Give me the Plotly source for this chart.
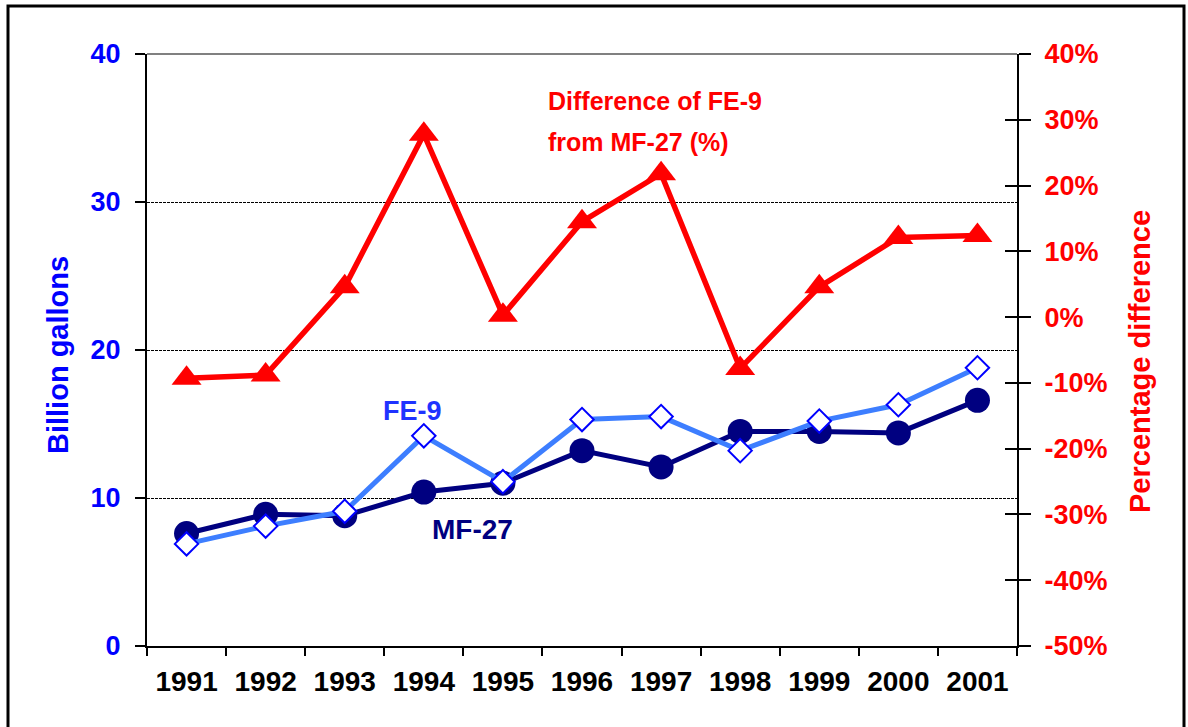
import plotly.graph_objects as go

years = ["1991", "1992", "1993", "1994", "1995", "1996", "1997", "1998", "1999", "2000", "2001"]
mf27 = [7.6, 8.9, 8.8, 10.4, 11.0, 13.2, 12.1, 14.5, 14.5, 14.4, 16.6]
fe9 = [6.9, 8.1, 9.1, 14.2, 11.1, 15.3, 15.5, 13.2, 15.2, 16.3, 18.8]
diff_pct = [-9.3, -8.8, 4.6, 27.8, 0.3, 14.5, 21.8, -7.8, 4.6, 12.1, 12.4]

left_ticks = [0, 10, 20, 30, 40]
right_ticks = [-50, -40, -30, -20, -10, 0, 10, 20, 30, 40]
right_labels = [f"{v}%" for v in right_ticks]

W, H = 1188, 727
L, R, T, B = 147, 171, 54, 81
pw, ph = W - L - R, H - T - B

def px(x):
    return (x - L) / pw

def py(y):
    return 1 - (y - T) / ph

BOLD = "Liberation Sans, Arial, sans-serif"

fig = go.Figure()
fig.add_trace(go.Scatter(
    x=years, y=mf27, mode="lines+markers", name="MF-27",
    line=dict(color="#000080", width=5),
    marker=dict(symbol="circle", size=25, color="#000080"),
    yaxis="y", cliponaxis=False))
fig.add_trace(go.Scatter(
    x=years, y=fe9, mode="lines+markers", name="FE-9",
    line=dict(color="#3D7EFF", width=5),
    marker=dict(symbol="diamond", size=18, color="white", line=dict(color="#0000FF", width=2)),
    yaxis="y", cliponaxis=False))
fig.add_trace(go.Scatter(
    x=years, y=diff_pct, mode="lines+markers", name="Difference",
    line=dict(color="#FF0000", width=5.5),
    marker=dict(symbol="triangle-up", size=26, color="#FF0000"),
    yaxis="y2", cliponaxis=False))
# invisible trace to anchor the inner tick axis
fig.add_trace(go.Scatter(x=years, y=diff_pct, mode="lines", line=dict(width=0),
                         yaxis="y3", hoverinfo="skip", showlegend=False, opacity=0))

fig.update_layout(
    width=W, height=H,
    margin=dict(l=L, r=R, t=T, b=B, autoexpand=False),
    paper_bgcolor="white", plot_bgcolor="white",
    showlegend=False,
    font=dict(family=BOLD),
    xaxis=dict(
        type="category", range=[-0.5, 10.5], tickson="boundaries",
        ticks="outside", ticklen=8, tickwidth=2, tickcolor="black",
        showline=True, linecolor="black", linewidth=2, showgrid=False, zeroline=False,
        tickfont=dict(size=28, color="black", weight="bold"),
        ticklabelstandoff=9,
    ),
    yaxis=dict(
        range=[0, 40], tickvals=left_ticks, ticktext=[str(v) for v in left_ticks],
        ticks="outside", ticklen=10, tickwidth=2, tickcolor="black",
        showline=True, linecolor="black", linewidth=2,
        showgrid=True, gridcolor="black", gridwidth=1, griddash="3px,1px",
        zeroline=False,
        tickfont=dict(size=27, color="#0000FF", weight="bold"),
        ticklabelstandoff=9,
    ),
    yaxis2=dict(
        range=[-50, 40], tickvals=right_ticks, ticktext=right_labels,
        overlaying="y", side="right",
        ticks="outside", ticklen=12, tickwidth=2, tickcolor="black",
        showline=True, linecolor="black", linewidth=2,
        showgrid=False, zeroline=False,
        tickfont=dict(size=27, color="#FF0000", weight="bold"),
        ticklabelstandoff=8,
    ),
    yaxis3=dict(
        range=[-50, 40], tickvals=right_ticks, overlaying="y", side="right",
        ticks="inside", ticklen=12, tickwidth=2, tickcolor="black",
        showticklabels=False, showline=False, showgrid=False, zeroline=False,
    ),
)

shapes = [
    # top border of plot area (gray)
    dict(type="line", xref="paper", yref="paper", x0=0, x1=1, y0=1, y1=1,
         line=dict(color="#808080", width=2), layer="above"),
    # outer frame
    dict(type="rect", xref="paper", yref="paper",
         x0=px(8), x1=px(1184), y0=py(6), y1=py(740),
         line=dict(color="black", width=3), fillcolor="rgba(0,0,0,0)", layer="above"),
]
fig.update_layout(shapes=shapes)

annotations = [
    dict(text="Billion gallons", xref="paper", yref="paper", x=px(58), y=py(355),
         textangle=-90, showarrow=False, font=dict(size=29, color="#0000FF", weight="bold"),
         xanchor="center", yanchor="middle"),
    dict(text="Percentage difference", xref="paper", yref="paper", x=px(1140), y=py(362),
         textangle=-90, showarrow=False, font=dict(size=29, color="#FF0000", weight="bold"),
         xanchor="center", yanchor="middle"),
    dict(text="Difference of FE-9", xref="paper", yref="paper",
         x=px(546), y=py(101), showarrow=False,
         font=dict(size=25, color="#FF0000", weight="bold"),
         xanchor="left", yanchor="middle"),
    dict(text="from MF-27 (%)", xref="paper", yref="paper",
         x=px(546), y=py(142), showarrow=False,
         font=dict(size=25, color="#FF0000", weight="bold"),
         xanchor="left", yanchor="middle"),
    dict(text="FE-9", xref="paper", yref="paper", x=px(412), y=py(411), showarrow=False,
         font=dict(size=27, color="#1F33FF", weight="bold"), xanchor="center", yanchor="middle"),
    dict(text="MF-27", xref="paper", yref="paper", x=px(472), y=py(529), showarrow=False,
         font=dict(size=28, color="#000080", weight="bold"), xanchor="center", yanchor="middle"),
]
fig.update_layout(annotations=annotations)

fig.write_html("out.html", config={"displayModeBar": False},
               post_script="document.body.style.margin='0';document.body.style.overflow='hidden';")
